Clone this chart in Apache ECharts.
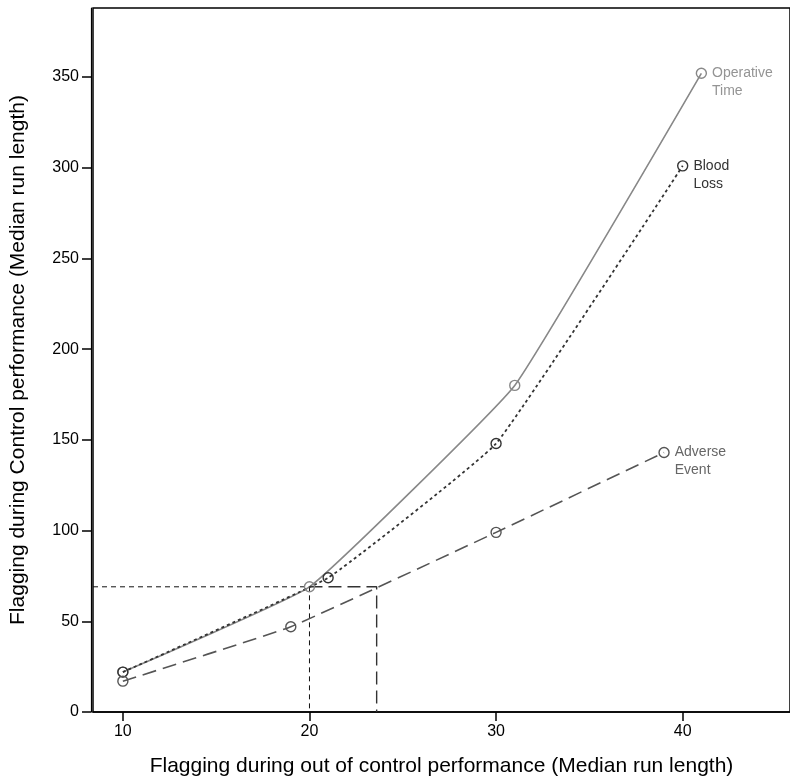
<!DOCTYPE html>
<html>
<head>
<meta charset="utf-8">
<script src="https://cdn.jsdelivr.net/npm/echarts@6/dist/echarts.min.js"></script>
<style>
  * { margin: 0; padding: 0; }
  body { background: #fff; }
  #chart-container { width: 790px; height: 784px; }
</style>
</head>
<body>
<div id="chart-container"></div>
<script>
  // values
  var xTicks = [10, 20, 30, 40]
  var yTicks = [0, 50, 100, 150, 200, 250, 300, 350]

  var opX = [10, 20, 31, 41]
  var opY = [22, 69, 180, 352]
  var bloodX = [10, 21, 30, 40]
  var bloodY = [22, 74, 148, 301]
  var adverseX = [10, 19, 30, 39]
  var adverseY = [17, 47, 99, 143]

  // cut-off at a control run length of 69
  var cutY = 69
  var cutX = [20, 23.6]

  var xMin = 8.4
  var xMax = 45.75

  function pairs(xs, ys) {
    return xs.map(function (x, i) {
      var p = [x, ys[i]]
      if (i === xs.length - 1) return { value: p, label: { show: true } }
      return p
    })
  }

  function curve(name, xs, ys, color, labelColor, lineType, width) {
    return {
      name: name,
      type: 'line',
      data: pairs(xs, ys),
      smooth: 0.1,
      symbol: 'circle',
      symbolSize: 10,
      z: 3,
      lineStyle: { color: color, width: width, type: lineType },
      itemStyle: { color: 'transparent', borderColor: color, borderWidth: 1.4 },
      label: {
        show: false,
        position: 'right',
        distance: 5,
        offset: [0, 9],
        formatter: name.replace(' ', '\n'),
        color: labelColor,
        fontSize: 14,
        lineHeight: 18,
        fontFamily: 'Liberation Sans',
      },
      emphasis: { disabled: true },
    }
  }

  var myChart = echarts.init(document.getElementById('chart-container'), null, { renderer: 'canvas' })

  var option = {
    animation: false,
    grid: {
      left: 92,
      right: -3,
      top: 8,
      bottom: 72,
      show: true,
      borderColor: '#000',
      borderWidth: 1.5,
    },
    xAxis: {
      type: 'value',
      min: xMin,
      max: xMax,
      name: 'Flagging during out of control performance (Median run length)',
      nameLocation: 'middle',
      nameGap: 44,
      nameTextStyle: { fontSize: 21, color: '#000', fontFamily: 'Liberation Sans' },
      splitLine: { show: false },
      axisLine: { lineStyle: { color: '#000', width: 1.5 } },
      axisTick: { show: true, length: 9, lineStyle: { color: '#000', width: 1.5 }, customValues: xTicks },
      axisLabel: { fontSize: 16, color: '#000', margin: 12, fontFamily: 'Liberation Sans', customValues: xTicks },
    },
    yAxis: {
      type: 'value',
      min: 0,
      max: 388,
      offset: 2,
      name: 'Flagging during Control performance (Median run length)',
      nameLocation: 'middle',
      nameGap: 62,
      nameTextStyle: { fontSize: 21, color: '#000', fontFamily: 'Liberation Sans' },
      splitLine: { show: false },
      axisLine: { show: true, lineStyle: { color: '#000', width: 1.2 } },
      axisTick: { show: true, length: 9, lineStyle: { color: '#000', width: 1.5 }, customValues: yTicks },
      axisLabel: { fontSize: 16, color: '#000', margin: 12, fontFamily: 'Liberation Sans', customValues: yTicks },
    },
    series: [
      {
        type: 'line',
        data: [[xMin, cutY], [cutX[0], cutY], [cutX[0], 0]],
        symbol: 'none',
        z: 1,
        lineStyle: { color: '#111', width: 1, type: [5, 4] },
        emphasis: { disabled: true },
      },
      {
        type: 'line',
        data: [[cutX[0], cutY], [cutX[1], cutY], [cutX[1], 0]],
        symbol: 'none',
        z: 1,
        lineStyle: { color: '#333', width: 1.4, type: [13, 6] },
        emphasis: { disabled: true },
      },
      curve('Operative Time', opX, opY, '#888888', '#949494', 'solid', 1.6),
      curve('Blood Loss', bloodX, bloodY, '#333333', '#333333', [3, 3], 1.8),
      curve('Adverse Event', adverseX, adverseY, '#555555', '#666666', [14, 7], 1.6),
    ],
  }

  myChart.setOption(option)
  window.addEventListener('resize', myChart.resize)
</script>
</body>
</html>
